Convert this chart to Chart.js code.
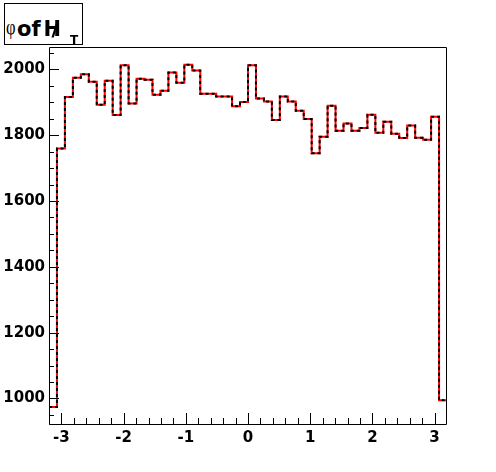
<!DOCTYPE html>
<html><head><meta charset="utf-8">
<script src="https://cdn.jsdelivr.net/npm/chart.js@4"></script>
<style>
html,body{margin:0;padding:0;background:#fff;}
#wrap{position:relative;width:496px;height:472px;overflow:hidden;background:#fff;}
#title{position:absolute;left:4px;top:3px;width:79px;height:42px;box-sizing:border-box;border:1px solid #000;background:#fff;font-family:"DejaVu Sans",sans-serif;color:#000;}
#title span{position:absolute;white-space:nowrap;line-height:1;}
#phi{left:1px;top:12px;font-family:"Liberation Serif","Times New Roman",serif;font-size:22px;transform:scaleX(0.75);transform-origin:left center;color:#000;}
#of{left:12px;top:15px;font-weight:bold;font-size:21px;}
#h{left:38.5px;top:15px;font-weight:bold;font-size:21px;}
#sl{left:46.5px;top:15px;font-weight:bold;font-size:21px;}
#t{left:65px;top:30px;font-weight:bold;font-size:12px;}
</style></head><body>
<div id="wrap"><canvas id="c" width="496" height="472"></canvas>
<div id="title"><span id="phi">φ</span><span id="of">of</span><span id="h">H</span><span id="sl">/</span><span id="t">T</span></div></div>
<script>
// Histogram definition: 50 bins from -3.2 to 3.2
const binLow = -3.2;
const binHigh = 3.2;
const counts = [974,1759,1916,1974,1985,1962,1892,1965,1861,2012,
                1896,1971,1968,1923,1935,1990,1959,2014,1996,1926,
                1926,1917,1917,1888,1901,2012,1911,1902,1846,1917,
                1902,1874,1849,1745,1795,1889,1813,1835,1813,1822,
                1862,1807,1841,1804,1791,1829,1792,1786,1856,995];
const xTicks = [-3,-2,-1,0,1,2,3];
const yTicks = [1000,1200,1400,1600,1800,2000];
const yMin = 922.5, yMax = 2067.7;

const nBins = counts.length;
const bw = (binHigh - binLow) / nBins;
const histPts = [];
counts.forEach((v, i) => {
  const lo = binLow + i * bw;
  histPts.push({x: lo, y: v}, {x: lo + bw, y: v});
});

const fontSpec = {family: '"DejaVu Sans", sans-serif', size: 15, weight: 'bold'};

const framePlugin = {
  id: 'frame',
  afterDraw(chart) {
    const ctx = chart.ctx, ca = chart.chartArea;
    const xs = chart.scales.x, ys = chart.scales.y;
    const L = Math.round(ca.left), R = Math.round(ca.right), T = Math.round(ca.top), B = Math.round(ca.bottom);
    ctx.save();
    ctx.strokeStyle = '#000';
    ctx.lineWidth = 1;
    ctx.beginPath();
    ctx.moveTo(L + 0.5, T + 0.5); ctx.lineTo(R - 0.5, T + 0.5);
    ctx.lineTo(R - 0.5, B + 0.5); ctx.lineTo(L + 0.5, B + 0.5); ctx.closePath();
    // y ticks
    for (let v = 950; v <= yMax; v += 50) {
      const py = Math.round(ys.getPixelForValue(v)) + 0.5;
      if (py < T || py > B) continue;
      const len = (v % 200 === 0) ? 10 : 5;
      ctx.moveTo(L, py); ctx.lineTo(L + len, py);
    }
    // x ticks
    for (let k = -16; k <= 16; k++) {
      const v = k * 0.2;
      const px = Math.round(xs.getPixelForValue(v)) + 0.5;
      if (px < L || px > R) continue;
      const len = (k % 5 === 0) ? 11 : 6;
      ctx.moveTo(px, B + 0.5); ctx.lineTo(px, B - len);
    }
    ctx.stroke();
    ctx.restore();
  }
};

new Chart(document.getElementById('c'), {
  type: 'line',
  data: {
    datasets: [
      {data: histPts, borderColor: '#000000', borderWidth: 2, borderDash: [3, 3], pointRadius: 0, fill: false, tension: 0},
      {data: histPts, borderColor: '#ff0000', borderWidth: 2, pointRadius: 0, fill: false, tension: 0}
    ]
  },
  options: {
    responsive: false,
    devicePixelRatio: 1,
    animation: false,
    events: [],
    layout: {padding: {left: 0, top: 47, right: 49, bottom: 0}},
    plugins: {legend: {display: false}, tooltip: {enabled: false}, title: {display: false}},
    scales: {
      x: {
        type: 'linear', position: 'bottom', min: binLow, max: binHigh,
        grid: {display: false, drawTicks: false}, border: {display: false},
        ticks: {font: fontSpec, color: '#000', padding: 5, maxRotation: 0, autoSkip: false,
                callback: v => String(v)},
        afterBuildTicks: a => { a.ticks = xTicks.map(v => ({value: v})); },
        afterFit: s => { s.height = 48; }
      },
      y: {
        type: 'linear', position: 'left', min: yMin, max: yMax,
        grid: {display: false, drawTicks: false}, border: {display: false},
        ticks: {font: fontSpec, color: '#000', padding: 4, autoSkip: false,
                callback: v => String(v)},
        afterBuildTicks: a => { a.ticks = yTicks.map(v => ({value: v})); },
        afterFit: s => { s.width = 49; }
      }
    }
  },
  plugins: [framePlugin]
});
</script>
</body></html>
